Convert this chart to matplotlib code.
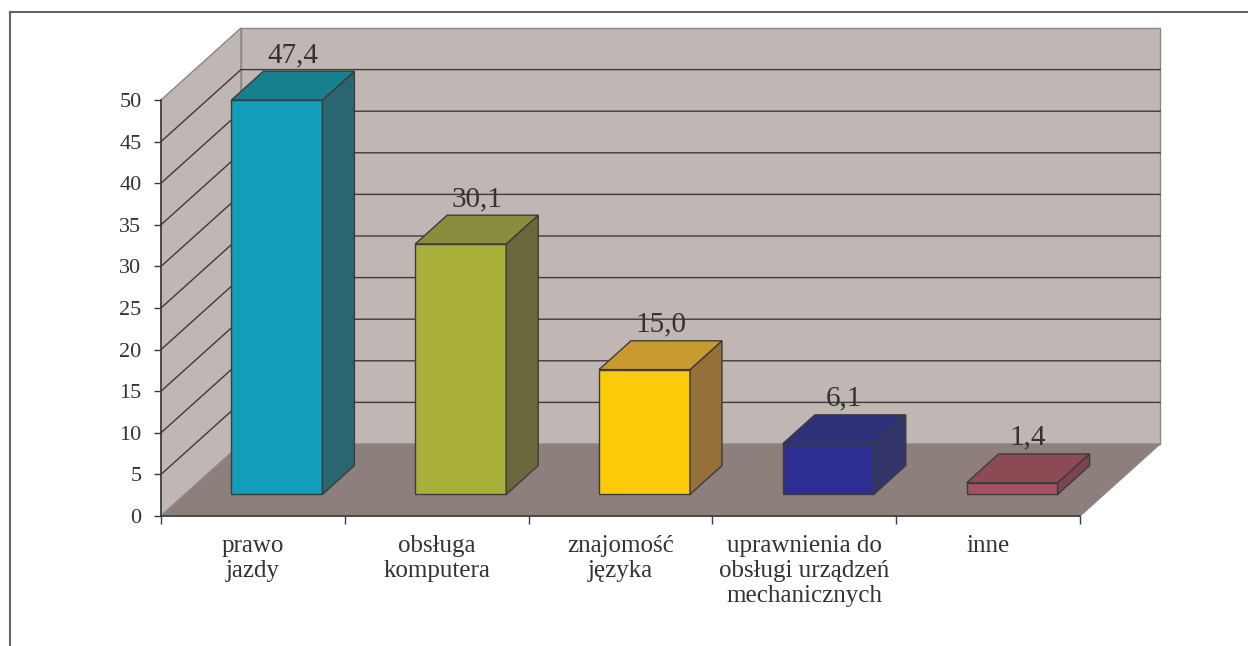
import matplotlib
matplotlib.use("Agg")
import matplotlib.pyplot as plt
from matplotlib.patches import Polygon
from matplotlib.lines import Line2D

# ******* DATA ********

categories = ["prawo\njazdy", "obsługa\nkomputera", "znajomość\njęzyka",
              "uprawnienia do\nobsługi urządzeń\nmechanicznych", "inne"]
values = [47.4, 30.1, 15.0, 6.1, 1.4]
value_labels = ["47,4", "30,1", "15,0", "6,1", "1,4"]
y_ticks = [0, 5, 10, 15, 20, 25, 30, 35, 40, 45, 50]

front_colors = ["#139DBA", "#A8B03A", "#FDCB0A", "#2E2E93", "#A55163"]
side_colors = ["#2A6670", "#6A693C", "#957038", "#32346A", "#7C4350"]
top_colors = ["#17808F", "#8A8C3E", "#C89A30", "#2F3178", "#8C4A55"]

# ******* 3D look ********

DX = 0.4353   # full depth shift, category units
DY = 8.654    # full depth shift, value units
F0, F1 = 0.3, 0.7   # bar front / back depth fraction
WALL = "#C0B7B4"
FLOOR = "#8C7F7C"
EDGE = "#3C3C3C"
TXT = "#333333"
FONT = "Liberation Serif"


def sh(x, y, d):
    return (x + d * DX, y + d * DY)


fig = plt.figure(figsize=(12.48, 6.46), dpi=100)
ax = fig.add_axes([161 / 1248, 130 / 646, 919 / 1248, 416 / 646])
n = len(values)
ymax = y_ticks[-1]
ax.set_xlim(0, n)
ax.set_ylim(0, ymax)
ax.set_facecolor("none")

# walls and floor
left_wall = [(0, 0), (0, ymax), sh(0, ymax, 1), sh(0, 0, 1)]
back_wall = [sh(0, 0, 1), sh(0, ymax, 1), sh(n, ymax, 1), sh(n, 0, 1)]
floor = [(0, 0), (n, 0), sh(n, 0, 1), sh(0, 0, 1)]
for pts, col in [(left_wall, WALL), (back_wall, WALL), (floor, FLOOR)]:
    ax.add_patch(Polygon(pts, closed=True, facecolor=col, edgecolor="#8E8686",
                         linewidth=1, clip_on=False, zorder=1))

# gridlines on the walls
for t in y_ticks[1:-1]:
    x0, y0 = sh(0, t, 1)
    x1, y1 = sh(n, t, 1)
    ax.plot([0, x0, x1], [t, y0, y1], color="#3E3A3A", linewidth=1,
            clip_on=False, zorder=2)

# bars
for i, v in enumerate(values):
    xa, xb = i + 0.2525, i + 0.7475
    front = [sh(xa, 0, F0), sh(xb, 0, F0), sh(xb, v, F0), sh(xa, v, F0)]
    side = [sh(xb, 0, F0), sh(xb, 0, F1), sh(xb, v, F1), sh(xb, v, F0)]
    top = [sh(xa, v, F0), sh(xb, v, F0), sh(xb, v, F1), sh(xa, v, F1)]
    for pts, col in [(front, front_colors[i]), (side, side_colors[i]), (top, top_colors[i])]:
        ax.add_patch(Polygon(pts, closed=True, facecolor=col, edgecolor=EDGE,
                             linewidth=1, clip_on=False, zorder=3))
    lx, ly = sh(i + 0.5, v, 0.5)
    ax.annotate(value_labels[i], (lx, ly), xytext=(0, 17), textcoords="offset points",
                ha="center", va="baseline", fontsize=21, color=TXT,
                family=FONT, zorder=4, annotation_clip=False)

# axes
for s in ["top", "right"]:
    ax.spines[s].set_visible(False)
for s in ["left", "bottom"]:
    ax.spines[s].set_color(EDGE)
    ax.spines[s].set_linewidth(1.2)
    ax.spines[s].set_zorder(5)

ax.set_yticks(y_ticks)
ax.set_yticklabels([str(t) for t in y_ticks], fontsize=16, color=TXT, family=FONT)
ax.tick_params(axis="y", length=5, width=1, color=EDGE, pad=9)

ax.set_xticks(range(n + 1))
ax.set_xticklabels([])
ax.tick_params(axis="x", which="major", length=6, width=1, color=EDGE)
ax.set_xticks([i + 0.5 for i in range(n)], minor=True)
ax.set_xticklabels(categories, minor=True, fontsize=18, color=TXT,
                   family=FONT, linespacing=1.15)
ax.tick_params(axis="x", which="minor", length=0, pad=14)

# frame around the chart
fig.add_artist(Line2D([10 / 1248, 10 / 1248], [0, 634 / 646], color="#666666", linewidth=1.5))
fig.add_artist(Line2D([10 / 1248, 1], [634 / 646, 634 / 646], color="#666666", linewidth=1.5))

fig.savefig("out.png", dpi=100)
